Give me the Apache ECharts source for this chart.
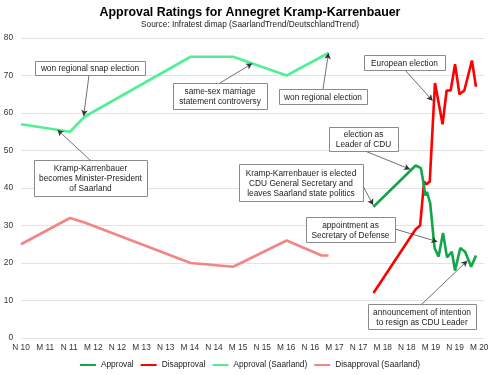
<!DOCTYPE html>
<html>
<head>
<meta charset="utf-8">
<script src="https://cdn.jsdelivr.net/npm/echarts@6.0.0/dist/echarts.min.js"></script>
<style>
  html, body { margin: 0; padding: 0; background: #fff; }
  #chart { width: 500px; height: 375px; }
</style>
</head>
<body>
<div id="chart"></div>
<script>
// x values are months counted from November 2010
const tickLabels = ['N 10', 'M 11', 'N 11', 'M 12', 'N 12', 'M 13', 'N 13', 'M 14', 'N 14', 'M 15',
  'N 15', 'M 16', 'N 16', 'M 17', 'N 17', 'M 18', 'N 18', 'M 19', 'N 19', 'M 20']

const saarApprMonths = [0, 12.2, 15.8, 42.2, 52.8, 66.1, 76.5]
const saarApproval = [57, 55, 59, 75, 75, 70, 76]

const saarDisMonths = [0, 12.2, 15.8, 42.2, 52.8, 66.1, 74.8, 76.5]
const saarDisapproval = [25, 32, 30.8, 20, 19, 26, 22, 22]

const natApprMonths = [87.7, 98.2, 99.5, 100.2, 100.6, 101.0, 101.8, 102.9, 103.9, 105.0,
  106.0, 107.2, 108.0, 109.3, 110.5, 112.0, 113.2]
const natApproval = [35, 46, 45.3, 41, 38, 39, 36, 24, 21.7, 28, 21.5, 23, 18, 24, 23, 19, 22]

const natDisMonths = [87.7, 98.2, 99.3, 100.3, 100.9, 101.7, 103.0, 104.9, 105.9, 106.9,
  108.0, 109.1, 110.3, 112.2, 113.2]
const natDisapproval = [12, 29, 30, 41.7, 41, 41.7, 68, 57, 66, 66, 73, 65, 66, 74, 67]

// annotations: text and the point (month, value) the arrow points at
const noteTexts = [
  'won regional snap election',
  'Kramp-Karrenbauer\nbecomes Minister-President\nof Saarland',
  'same-sex marriage\nstatement controversy',
  'won regional election',
  'European election',
  'election as\nLeader of CDU',
  'Kramp-Karrenbauer is elected\nCDU General Secretary and\nleaves Saarland state politics',
  'appointment as\nSecretary of Defense',
  'announcement of intention\nto resign as CDU Leader'
]
const noteTargets = [
  [15.6, 59.2], [9.1, 55.5], [57.5, 73.2], [76.5, 76], [102.4, 63.3],
  [96.8, 45], [87.6, 35.5], [103.6, 25.7], [111.05, 20.6]
]

const zip = (xs, ys) => xs.map((x, i) => [x, ys[i]])
const FONT = 'Liberation Sans, Arial, sans-serif'

// box layout in pixels: [x, y, w, h, arrowStartX, arrowStartY]
const boxes = [
  [35, 61, 110, 14, 89, 75],
  [34, 160, 113, 36, 90, 160],
  [173, 83, 94, 26, 220, 83],
  [279, 89, 88, 15, 323, 89],
  [364, 55, 81, 15, 405, 70],
  [329, 127, 69, 24, 365, 151],
  [239, 164, 124, 37, 363, 186],
  [306, 217, 89, 25, 395, 229],
  [368, 304, 108, 25, 422, 304]
]

const arrows = boxes.map((b, i) => [
  { x: b[4], y: b[5] },
  { coord: noteTargets[i] }
])

const graphics = []
boxes.forEach((b, i) => {
  graphics.push({
    type: 'rect',
    z: 100,
    shape: { x: b[0] + 0.5, y: b[1] + 0.5, width: b[2], height: b[3] },
    style: { fill: '#fff', stroke: '#8a8a8a', lineWidth: 1 }
  })
  graphics.push({
    type: 'text',
    z: 101,
    x: b[0] + b[2] / 2,
    y: b[1] + b[3] / 2 + 1,
    style: {
      text: noteTexts[i],
      font: '8.3px ' + FONT,
      fill: '#222',
      align: 'center',
      verticalAlign: 'middle',
      lineHeight: 10
    }
  })
})

const chart = echarts.init(document.getElementById('chart'))
chart.setOption({
  animation: false,
  color: ['#10a64a', '#ff0000', '#52ef95', '#f28585'],
  textStyle: { fontFamily: FONT },
  title: {
    text: 'Approval Ratings for Annegret Kramp-Karrenbauer',
    subtext: 'Source: Infratest dimap (SaarlandTrend/DeutschlandTrend)',
    left: 'center',
    top: 6,
    padding: 0,
    itemGap: 0,
    textStyle: { fontSize: 12.4, fontWeight: 'bold', color: '#000', lineHeight: 14, fontFamily: FONT },
    subtextStyle: { fontSize: 8.3, color: '#222', lineHeight: 10, fontFamily: FONT }
  },
  legend: {
    bottom: 1,
    left: 'center',
    icon: 'rect',
    itemWidth: 16,
    itemHeight: 2,
    itemGap: 7,
    textStyle: { fontSize: 8.3, color: '#222', fontFamily: FONT },
    data: ['Approval', 'Disapproval', 'Approval (Saarland)', 'Disapproval (Saarland)']
  },
  grid: { left: 21, right: 16, top: 38, bottom: 37 },
  xAxis: {
    type: 'value',
    min: 0,
    max: 115.2,
    interval: 6,
    axisLine: { show: false },
    axisTick: { show: false },
    splitLine: { show: false },
    axisLabel: {
      fontSize: 8.3,
      color: '#333',
      margin: 6,
      formatter: (v) => tickLabels[v / 6] || ''
    }
  },
  yAxis: {
    type: 'value',
    min: 0,
    max: 80,
    interval: 10,
    axisLine: { show: false },
    axisTick: { show: false },
    axisLabel: { fontSize: 8.3, color: '#333', margin: 8 },
    splitLine: { lineStyle: { color: '#e3e3e3', width: 1 } }
  },
  series: [
    {
      name: 'Approval',
      type: 'line',
      showSymbol: false,
      lineStyle: { width: 2.6 },
      data: zip(natApprMonths, natApproval),
      z: 4
    },
    {
      name: 'Disapproval',
      type: 'line',
      showSymbol: false,
      lineStyle: { width: 2.6 },
      data: zip(natDisMonths, natDisapproval),
      z: 3
    },
    {
      name: 'Approval (Saarland)',
      type: 'line',
      showSymbol: false,
      lineStyle: { width: 2.6 },
      data: zip(saarApprMonths, saarApproval),
      markLine: {
        silent: true,
        symbol: ['none', 'arrow'],
        symbolSize: [5, 6],
        label: { show: false },
        lineStyle: { color: '#333', width: 0.7, type: 'solid' },
        emphasis: { disabled: true },
        data: arrows
      }
    },
    {
      name: 'Disapproval (Saarland)',
      type: 'line',
      showSymbol: false,
      lineStyle: { width: 2.6 },
      data: zip(saarDisMonths, saarDisapproval)
    }
  ],
  graphic: graphics
})
</script>
</body>
</html>
